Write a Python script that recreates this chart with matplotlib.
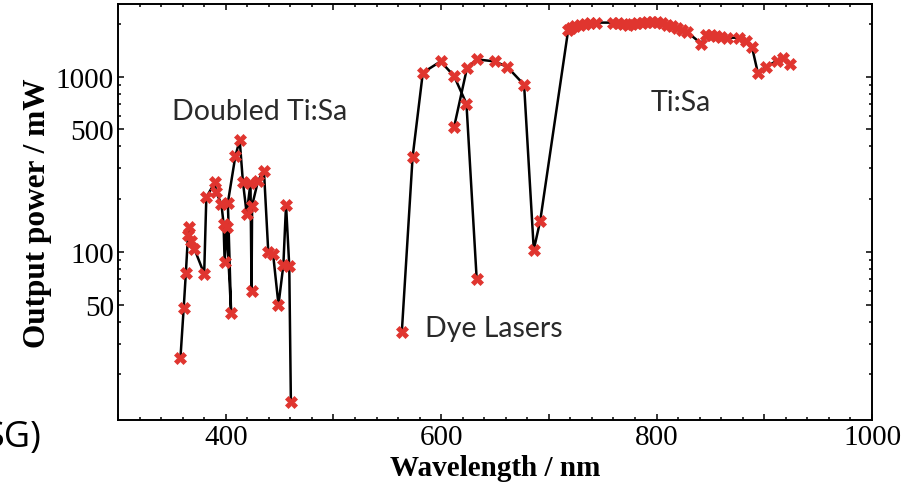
import matplotlib
matplotlib.use("Agg")
import matplotlib.pyplot as plt
from matplotlib.ticker import FixedLocator, FuncFormatter, MultipleLocator

# frequency-doubled Ti:Sa
doubled_nm = [358, 361, 363, 365, 366, 367.5, 371, 380, 382, 390, 391, 396, 398, 399,
              401, 405, 402, 409, 413, 416, 419.5, 423, 424, 424.5, 430, 435.5, 439.5,
              444, 449, 453.5, 456, 459, 460.5]
doubled_mw = [25, 48, 76, 125, 139, 115, 104, 75, 205, 250, 220, 188, 145, 88,
              139, 45, 191, 354, 433, 250, 165, 248, 60, 184, 255, 291, 100,
              97, 50, 84, 186, 83, 14]

# dye lasers
dye_a_nm = [563.5, 573.5, 583, 599.5, 612, 623.5, 633]
dye_a_mw = [35, 348, 1054, 1223, 1009, 701, 70]
dye_b_nm = [612, 624, 633, 650, 661.5, 677, 686, 692]
dye_b_mw = [516, 1121, 1256, 1223, 1136, 900, 103, 151]

# Ti:Sa
tisa_nm = [718, 720.5, 724.5, 729, 733.5, 738, 744, 759.5, 764, 769, 773.5, 777, 782,
           786.5, 791, 796, 800.5, 805, 809.5, 814.5, 819, 823.5, 828, 841.5, 846,
           850.5, 855, 860, 865.5, 876.5, 883, 888.5, 894, 901.5, 912, 917.5, 924]
tisa_mw = [1857, 1905, 1955, 1983, 2009, 2036, 2036, 2036, 2036, 2009, 1983, 2009, 2036,
           2036, 2063, 2063, 2063, 2036, 1983, 1955, 1905, 1857, 1808, 1544, 1738,
           1738, 1714, 1692, 1670, 1670, 1606, 1484, 1054, 1141, 1234, 1284, 1187]

Y_MAJOR = [50, 100, 500, 1000]
Y_MINOR = [20, 30, 40, 60, 70, 80, 90, 200, 300, 400, 600, 700, 800, 900, 2000]

RED = "#e0352f"
SERIF = "Liberation Serif"
SANS = "Lato"


def draw_series(ax, xs, ys):
    ax.plot(xs, ys, color="black", lw=1.8, zorder=2)
    ax.plot(xs, ys, ls="none", marker="X", ms=9, mfc=RED, mec=RED, mew=0.5, zorder=3)


fig = plt.figure(figsize=(9.13, 4.89), dpi=100)
ax = fig.add_axes([118 / 913, 1 - 421 / 489, 754 / 913, 416 / 489])

draw_series(ax, doubled_nm, doubled_mw)
draw_series(ax, dye_a_nm, dye_a_mw)
draw_series(ax, dye_b_nm + tisa_nm, dye_b_mw + tisa_mw)

ax.set_xlim(300, 1000)
ax.set_yscale("log")
ax.set_ylim(11, 2600)

ax.xaxis.set_major_locator(MultipleLocator(100))
ax.xaxis.set_minor_locator(MultipleLocator(20))
ax.xaxis.set_major_formatter(FuncFormatter(lambda v, p: f"{v:.0f}" if v % 200 == 0 and v > 300 else ""))
ax.yaxis.set_major_locator(FixedLocator(Y_MAJOR))
ax.yaxis.set_minor_locator(FixedLocator(Y_MINOR))
ax.yaxis.set_major_formatter(FuncFormatter(lambda v, p: f"{v:.0f}"))
ax.yaxis.set_minor_formatter(FuncFormatter(lambda v, p: ""))

ax.tick_params(which="both", direction="in", top=True, right=True, width=1.1)
ax.tick_params(which="major", length=4.5, labelsize=21, pad=3)
ax.tick_params(which="minor", length=2.2)
for lbl in ax.get_xticklabels() + ax.get_yticklabels():
    lbl.set_family(SERIF)
for sp in ax.spines.values():
    sp.set_linewidth(1.4)

ax.set_xlabel("Wavelength / nm", family=SERIF, fontweight="bold", fontsize=21, labelpad=3)
ax.set_ylabel("Output power / mW", family=SERIF, fontweight="bold", fontsize=22.5, labelpad=3)

ax.text(350, 640, "Doubled Ti:Sa", family=SANS, fontsize=20.5, color="#2a2a2a",
        ha="left", va="center")
ax.text(585, 37, "Dye Lasers", family=SANS, fontsize=20.5, color="#2a2a2a",
        ha="left", va="center")
ax.text(822, 720, "Ti:Sa", family=SANS, fontsize=20.5, color="#2a2a2a",
        ha="center", va="center")

# leftover text from the slide behind the chart
fig.text(41 / 913, 1 - 438 / 489, "SG)", family="Open Sans", fontsize=26,
         color="black", ha="right", va="center")

fig.savefig("out.png", dpi=100, facecolor="white")
